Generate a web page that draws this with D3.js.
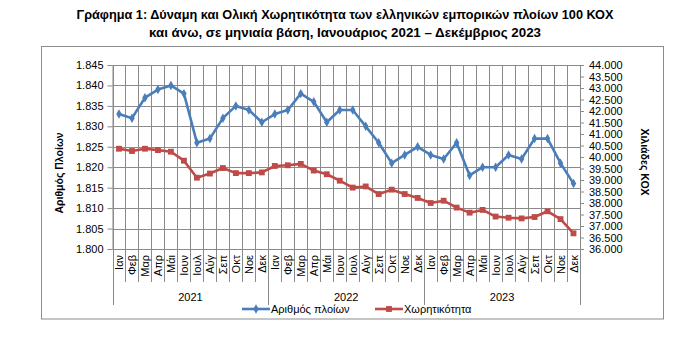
<!DOCTYPE html>
<html><head><meta charset="utf-8">
<script src="https://cdn.jsdelivr.net/npm/d3@7"></script>
<style>
html,body{margin:0;padding:0;background:#fff;}
svg{display:block;font-family:"Liberation Sans",Arial,sans-serif;}
</style></head>
<body>
<svg id="chart" width="686" height="345"></svg>
<script>
// ---- data ----
const months = ["Ιαν","Φεβ","Μαρ","Απρ","Μάι","Ιουν","Ιουλ","Αύγ","Σεπ","Οκτ","Νοε","Δεκ"];
const years = ["2021","2022","2023"];
const vessels = [1833,1832,1837,1839,1840,1838,1826,1827,1832,1835,1834,1831,
                 1833,1834,1838,1836,1831,1834,1834,1830,1826,1821,1823,1825,
                 1823,1822,1826,1818,1820,1820,1823,1822,1827,1827,1821,1816];
const tonnage = [40360,40260,40360,40300,40230,39840,39100,39280,39520,39300,39300,39330,
                 39610,39640,39700,39410,39250,38970,38670,38720,38390,38580,38390,38220,
                 38000,38100,37800,37580,37700,37410,37360,37330,37390,37640,37300,36680];
const leftTicks = [1800,1805,1810,1815,1820,1825,1830,1835,1840,1845];
const rightTicks = [36000,36500,37000,37500,38000,38500,39000,39500,40000,40500,41000,41500,42000,42500,43000,43500,44000];
const seriesNames = ["Αριθμός πλοίων","Χωρητικότητα"];
const titleLines = ["Γράφημα 1: Δύναμη και Ολική Χωρητικότητα των ελληνικών εμπορικών πλοίων 100 ΚΟΧ",
                    "και άνω, σε μηνιαία βάση, Ιανουάριος 2021 – Δεκέμβριος 2023"];
const leftTitle = "Αριθμός Πλοίων";
const rightTitle = "Χιλιάδες ΚΟΧ";

const categories = [];
years.forEach(y => months.forEach(m => categories.push(y + "-" + m)));

// ---- layout ----
const svg = d3.select("#chart");
const L = 112.5, R = 580, T = 65, B = 249;
const blue = "#4A7EBB", red = "#BE4B48", grid = "#8a8a8a";

const x = d3.scaleBand().domain(categories).range([L, R]).padding(0);
const bw = x.bandwidth();
const yL = d3.scaleLinear().domain([1800, 1845]).range([B, T]);
const yR = d3.scaleLinear().domain([36000, 44000]).range([B, T]);
const fmt = d3.formatLocale({decimal: ",", thousands: ".", grouping: [3], currency: ["", "€"]}).format(",");

// frame
svg.append("rect").attr("x", 41.5).attr("y", 46.5).attr("width", 622).attr("height", 272.5)
  .attr("fill", "#fff").attr("stroke", "#8c8c8c").attr("stroke-width", 1);

// title
svg.append("g").selectAll("text").data(titleLines).enter().append("text")
  .attr("x", 345).attr("y", (d, i) => 19 + i * 18)
  .attr("text-anchor", "middle").attr("font-weight", "bold").attr("font-size", 12.5)
  .attr("textLength", (d, i) => i === 0 ? 537 : 392).attr("lengthAdjust", "spacingAndGlyphs")
  .attr("fill", "#000").text(d => d);

// horizontal gridlines
const r5 = v => Math.round(v) + 0.5;
svg.append("g").selectAll("line").data(leftTicks).enter().append("line")
  .attr("x1", L).attr("x2", R).attr("y1", d => r5(yL(d))).attr("y2", d => r5(yL(d)))
  .attr("stroke", grid).attr("stroke-width", 1);
// vertical gridlines at category boundaries
svg.append("g").selectAll("line").data(categories).enter().append("line")
  .attr("x1", d => r5(x(d))).attr("x2", d => r5(x(d))).attr("y1", T).attr("y2", B)
  .attr("stroke", grid).attr("stroke-width", 1);

// left axis
const gl = svg.append("g").attr("transform", `translate(${L},0)`)
  .call(d3.axisLeft(yL).tickValues(leftTicks).tickSize(5).tickSizeOuter(0).tickPadding(4).tickFormat(fmt));
// right axis
const gr = svg.append("g").attr("transform", `translate(${R},0)`)
  .call(d3.axisRight(yR).tickValues(rightTicks).tickSize(4).tickSizeOuter(0).tickPadding(5).tickFormat(fmt));
[gl, gr].forEach(g => {
  g.selectAll("path.domain").attr("stroke", grid);
  g.selectAll(".tick line").attr("stroke", grid);
  g.selectAll(".tick text").attr("font-size", 11).attr("fill", "#000")
    .attr("font-family", "'Liberation Sans',Arial,sans-serif");
});
// extend axis lines down to year separators
svg.append("line").attr("x1", r5(L)).attr("x2", r5(L)).attr("y1", T).attr("y2", 305).attr("stroke", grid);
svg.append("line").attr("x1", R + 0.5).attr("x2", R + 0.5).attr("y1", T).attr("y2", 305).attr("stroke", grid);

// bottom axis line
svg.append("line").attr("x1", L).attr("x2", R).attr("y1", B + 0.5).attr("y2", B + 0.5).attr("stroke", grid);

// category tick lines below axis
svg.append("g").selectAll("line").data(categories.slice(1)).enter().append("line")
  .attr("x1", d => r5(x(d))).attr("x2", d => r5(x(d))).attr("y1", B)
  .attr("y2", (d, i) => ((i + 1) % 12 === 0) ? 305 : 282)
  .attr("stroke", grid).attr("stroke-width", 1);

// month labels
svg.append("g").selectAll("text").data(categories).enter().append("text")
  .attr("transform", d => `translate(${x(d) + bw / 2 + 0.5},255) rotate(-90)`)
  .attr("text-anchor", "end").attr("dy", "0.35em").attr("font-size", 11).attr("fill", "#000")
  .text(d => d.split("-")[1]);

// year labels
svg.append("g").selectAll("text").data(years).enter().append("text")
  .attr("x", (d, i) => x(d + "-" + months[0]) + bw * 6)
  .attr("y", 297).attr("dy", "0.35em").attr("text-anchor", "middle")
  .attr("font-size", 11).attr("fill", "#000").text(d => d);

// axis titles
svg.append("text").attr("transform", "translate(59,173) rotate(-90)")
  .attr("text-anchor", "middle").attr("dy", "0.35em").attr("font-weight", "bold")
  .attr("font-size", 10.5).attr("fill", "#000").text(leftTitle);
svg.append("text").attr("transform", "translate(645,162) rotate(90)")
  .attr("text-anchor", "middle").attr("dy", "0.35em").attr("font-weight", "bold")
  .attr("font-size", 10.5).attr("fill", "#000").text(rightTitle);

// series
const cx = (d, i) => x(categories[i]) + bw / 2;
const lineL = d3.line().x((d, i) => cx(d, i)).y(d => yL(d));
const lineR = d3.line().x((d, i) => cx(d, i)).y(d => yR(d));

svg.append("path").datum(tonnage).attr("d", lineR).attr("fill", "none")
  .attr("stroke", red).attr("stroke-width", 2.6).attr("stroke-linejoin", "round");
svg.append("g").selectAll("path").data(tonnage).enter().append("path")
  .attr("d", d3.symbol(d3.symbolSquare, 34))
  .attr("transform", (d, i) => `translate(${cx(d, i)},${yR(d)})`).attr("fill", red);

svg.append("path").datum(vessels).attr("d", lineL).attr("fill", "none")
  .attr("stroke", blue).attr("stroke-width", 2.6).attr("stroke-linejoin", "round");
svg.append("g").selectAll("path").data(vessels).enter().append("path")
  .attr("d", d3.symbol(d3.symbolDiamond, 26))
  .attr("transform", (d, i) => `translate(${cx(d, i)},${yL(d)})`).attr("fill", blue);

// legend
const leg = [{name: seriesNames[0], color: blue, sym: d3.symbolDiamond, size: 26, x0: 242},
             {name: seriesNames[1], color: red, sym: d3.symbolSquare, size: 34, x0: 375}];
const lg = svg.append("g").selectAll("g").data(leg).enter().append("g")
  .attr("transform", d => `translate(${d.x0},309)`);
lg.append("line").attr("x1", 0).attr("x2", 28).attr("y1", 0).attr("y2", 0)
  .attr("stroke", d => d.color).attr("stroke-width", 2.6);
lg.append("path").attr("d", d => d3.symbol(d.sym, d.size)()).attr("transform", "translate(14,0)")
  .attr("fill", d => d.color);
lg.append("text").attr("x", 29).attr("dy", "0.35em").attr("font-size", 11).attr("fill", "#000")
  .text(d => d.name);
</script>
</body></html>
